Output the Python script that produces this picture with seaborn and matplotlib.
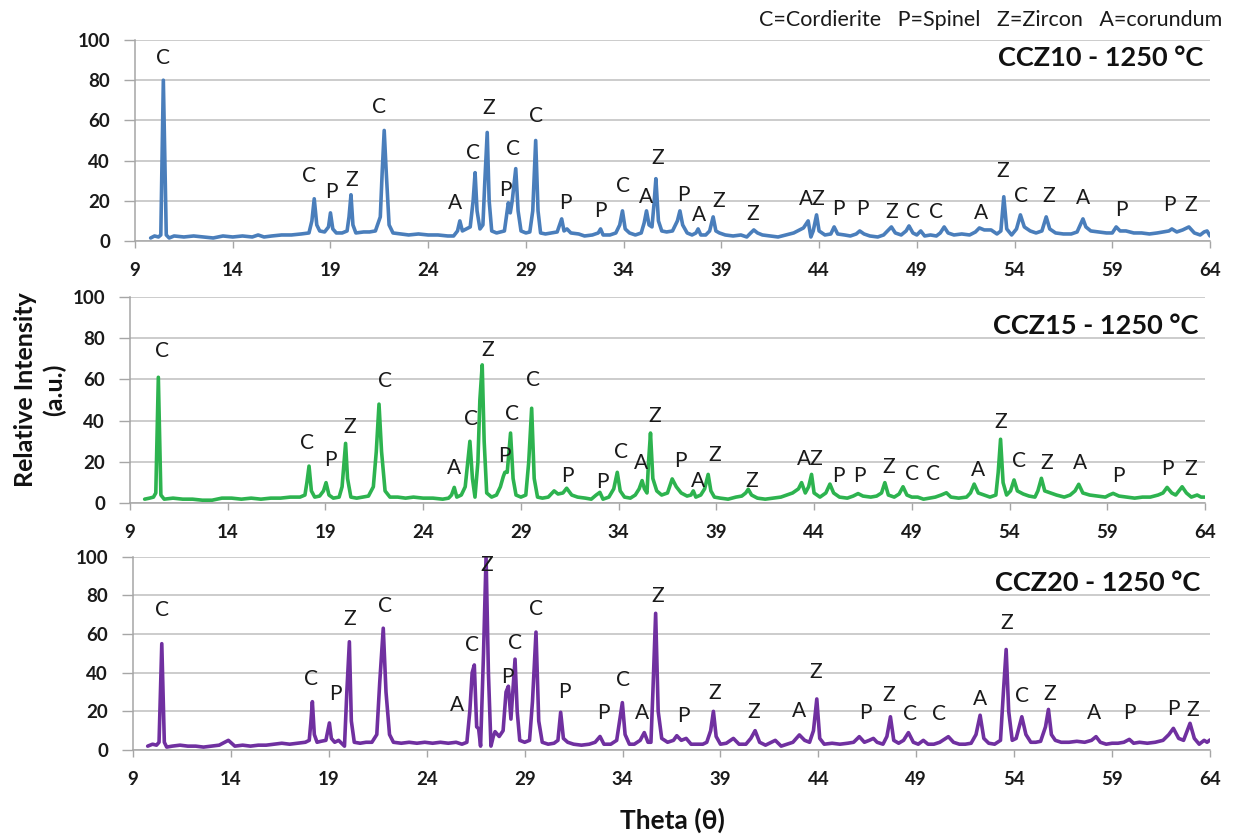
import matplotlib
matplotlib.use("Agg")
import matplotlib.pyplot as plt
import seaborn as sns
import pandas as pd

# ---------------- data ----------------
# CCZ10 - 1250 °C pattern (theta, relative intensity)
theta_10 = [9.8, 10.0, 10.2, 10.32, 10.45, 10.6, 10.75, 11.0, 11.5, 12.0, 12.5, 13.0, 13.5, 14.0, 14.5, 15.0,
            15.3, 15.6, 16.0, 16.5, 17.0, 17.5, 17.9, 18.05, 18.17, 18.3, 18.45, 18.7, 18.9, 19.0, 19.12, 19.3,
            19.6, 19.85, 19.95, 20.05, 20.15, 20.3, 20.7, 21.0, 21.3, 21.55, 21.65, 21.75, 21.85, 22.0, 22.2,
            22.6, 23.0, 23.5, 24.0, 24.5, 25.0, 25.3, 25.5, 25.62, 25.75, 25.95, 26.15, 26.3, 26.4, 26.5, 26.65,
            26.8, 26.9, 27.02, 27.12, 27.25, 27.5, 27.7, 27.9, 28.0, 28.1, 28.2, 28.3, 28.48, 28.6, 28.75, 29.0,
            29.2, 29.35, 29.5, 29.62, 29.75, 30.0, 30.3, 30.6, 30.83, 30.95, 31.1, 31.3, 31.7, 32.0, 32.4, 32.7,
            32.82, 32.95, 33.3, 33.6, 33.8, 33.94, 34.08, 34.3, 34.6, 34.9, 35.05, 35.17, 35.3, 35.45, 35.55,
            35.65, 35.78, 35.95, 36.2, 36.5, 36.75, 36.88, 37.02, 37.25, 37.5, 37.7, 37.81, 37.95, 38.2, 38.4,
            38.58, 38.72, 38.9, 39.2, 39.6, 40.0, 40.3, 40.5, 40.66, 40.85, 41.1, 41.5, 41.9, 42.3, 42.7, 43.0,
            43.2, 43.44, 43.58, 43.7, 43.87, 44.0, 44.3, 44.6, 44.77, 44.95, 45.3, 45.6, 45.9, 46.08, 46.3, 46.6,
            47.0, 47.3, 47.5, 47.7, 47.9, 48.2, 48.45, 48.6, 48.8, 49.0, 49.2, 49.4, 49.7, 50.0, 50.2, 50.4,
            50.6, 50.9, 51.3, 51.7, 52.0, 52.2, 52.45, 52.8, 53.1, 53.3, 53.45, 53.6, 53.85, 54.1, 54.3, 54.5,
            54.8, 55.1, 55.4, 55.62, 55.8, 56.1, 56.5, 56.9, 57.2, 57.5, 57.65, 57.9, 58.3, 58.7, 59.0, 59.2,
            59.4, 59.7, 60.1, 60.5, 60.9, 61.3, 61.6, 61.9, 62.05, 62.3, 62.6, 62.92, 63.2, 63.5, 63.7, 63.85, 64.0]
int_10 = [1.5, 2.5, 2.0, 3, 80, 3, 1.5, 2.5, 2, 2.5, 2, 1.5, 2.5, 2, 2.5, 2,
          3, 2, 2.5, 3, 3, 3.5, 4, 10, 21, 8, 5, 4.5, 7, 14, 6, 4,
          4, 5, 12, 23, 8, 4, 4.5, 4.5, 5, 12, 35, 55, 35, 8, 4,
          3.5, 3, 3.5, 3, 3, 2.5, 2.5, 5, 10, 5, 6, 7, 20, 34, 15, 6,
          8, 30, 54, 20, 5, 4, 4.5, 5, 12, 19, 14, 20, 36, 15, 5, 4,
          4.5, 15, 50, 15, 4, 3.5, 4, 4.5, 11, 5, 6, 4, 3.5, 2.5, 3, 4,
          6, 3, 3, 4, 8, 15, 6, 4, 3, 4, 9, 15, 8, 7, 18,
          31, 10, 5, 4.5, 5, 10, 15, 8, 4, 3, 4, 6, 3, 3, 5,
          12, 5, 4, 3, 2.5, 3, 2, 4, 5.5, 4, 3, 2.5, 2, 3, 4, 5.5,
          6.5, 10, 2, 5, 13, 5, 3, 3.5, 7, 3.5, 3, 2.5, 3.5, 5, 3.5, 2.5,
          2, 3, 5, 7, 4, 3, 5, 7.5, 4, 3, 5, 2.5, 3, 2.5, 4, 7,
          4, 3, 3.5, 3, 4.5, 6.5, 5.5, 5.5, 3.5, 5, 22, 6, 3, 6, 13, 7,
          5, 4, 5, 12, 6, 4, 3.5, 3.5, 4.5, 11, 7, 5, 4.5, 4, 4, 7,
          5, 5, 4, 4, 3.5, 4, 4.5, 5, 6, 4.5, 5.5, 7, 4, 3, 4.5, 5, 2.5]

# CCZ15 - 1250 °C pattern
theta_15 = [9.75, 10.0, 10.2, 10.32, 10.45, 10.58, 10.75, 11.2, 11.7, 12.2, 12.7, 13.2, 13.7, 14.2, 14.7, 15.2,
            15.7, 16.2, 16.7, 17.2, 17.7, 17.95, 18.05, 18.16, 18.28, 18.45, 18.7, 18.9, 19.03, 19.18, 19.4,
            19.7, 19.85, 19.95, 20.03, 20.13, 20.3, 20.6, 20.9, 21.2, 21.45, 21.6, 21.74, 21.87, 22.05, 22.3,
            22.7, 23.1, 23.5, 24.0, 24.5, 25.0, 25.3, 25.45, 25.59, 25.72, 25.95, 26.15, 26.28, 26.39, 26.52,
            26.65, 26.8, 26.9, 27.02, 27.12, 27.25, 27.5, 27.75, 27.95, 28.1, 28.18, 28.3, 28.47, 28.6, 28.75,
            29.0, 29.25, 29.4, 29.55, 29.68, 29.85, 30.1, 30.4, 30.7, 30.9, 31.15, 31.34, 31.6, 31.9, 32.3,
            32.6, 32.85, 33.04, 33.2, 33.5, 33.75, 33.93, 34.08, 34.3, 34.6, 34.85, 35.05, 35.2, 35.32, 35.45,
            35.53, 35.63, 35.75, 35.95, 36.2, 36.5, 36.74, 36.95, 37.2, 37.5, 37.7, 37.82, 37.95, 38.2, 38.4,
            38.58, 38.72, 38.9, 39.2, 39.6, 40.0, 40.3, 40.5, 40.63, 40.8, 41.1, 41.5, 41.9, 42.3, 42.6, 42.9,
            43.2, 43.36, 43.55, 43.72, 43.87, 44.0, 44.3, 44.6, 44.81, 45.0, 45.3, 45.7, 46.0, 46.25, 46.5,
            46.9, 47.2, 47.45, 47.62, 47.8, 48.1, 48.35, 48.55, 48.75, 49.0, 49.3, 49.6, 49.9, 50.2, 50.5,
            50.77, 51.0, 51.4, 51.8, 52.0, 52.19, 52.4, 52.7, 53.0, 53.3, 53.42, 53.54, 53.67, 53.85, 54.05,
            54.23, 54.4, 54.7, 55.0, 55.3, 55.45, 55.63, 55.8, 56.1, 56.4, 56.8, 57.1, 57.35, 57.54, 57.75,
            58.1, 58.5, 58.9, 59.1, 59.3, 59.6, 60.0, 60.4, 60.8, 61.2, 61.6, 61.85, 62.06, 62.3, 62.5, 62.83,
            63.05, 63.3, 63.6, 63.8, 64.0]
int_15 = [2, 2.5, 3, 5, 61, 4, 2, 2.5, 2, 2, 1.5, 1.5, 2.5, 2.5, 2, 2.5,
          2, 2.5, 2.5, 3, 3, 4, 10, 18, 6, 3, 3.5, 6, 10, 4, 2.5,
          3, 8, 20, 29, 12, 3, 2.5, 3, 3.5, 8, 25, 48, 25, 6, 3,
          3, 2.5, 3, 2.5, 2.5, 2, 2.5, 4, 7.7, 3, 4, 8, 20, 30, 12,
          3, 20, 50, 67, 30, 5, 3, 4, 8, 13, 15, 15, 34, 12, 4,
          3, 4, 20, 46, 12, 3, 2.5, 3, 6, 4.5, 5, 7.3, 4, 3, 2.5,
          2, 4, 5.3, 2, 3, 7, 15, 6, 3, 2.5, 4, 7, 11, 7, 5,
          20, 34, 12, 6, 4, 5, 11.8, 8, 5, 3.5, 4, 6, 3, 4, 7,
          14, 6, 3, 2.5, 2, 3, 3.5, 5, 6.8, 4, 2.5, 2, 2.5, 3, 4, 5,
          7, 10, 5, 8, 14, 5, 3, 5, 9.3, 5, 3, 2.5, 3.5, 4.7, 3.5,
          3, 3.5, 5, 10, 4, 3, 4.5, 8, 4, 3, 3, 2, 2.5, 3, 4,
          5.1, 3, 2.5, 3, 5, 9.3, 5, 4, 3, 4, 15, 31, 10, 4, 6,
          11.3, 6, 4.5, 3.5, 3, 6, 12.1, 6, 5, 4, 3, 4, 6, 9.2, 5,
          4, 3.5, 3, 4, 4.8, 3.5, 3, 2.5, 3, 3, 4, 5, 7.7, 5, 4, 8,
          5, 3, 4, 3, 3]

# CCZ20 - 1250 °C pattern
theta_20 = [9.75, 10.0, 10.2, 10.33, 10.47, 10.6, 10.72, 11.0, 11.4, 11.8, 12.2, 12.6, 13.0, 13.4, 13.87, 14.2,
            14.6, 15.0, 15.4, 15.8, 16.2, 16.6, 17.0, 17.4, 17.8, 18.0, 18.08, 18.16, 18.26, 18.4, 18.6, 18.85,
            18.95, 19.03, 19.13, 19.3, 19.5, 19.65, 19.8, 19.92, 20.05, 20.15, 20.3, 20.6, 20.9, 21.2, 21.45,
            21.6, 21.78, 21.92, 22.1, 22.3, 22.7, 23.1, 23.5, 23.9, 24.3, 24.7, 25.1, 25.5, 25.8, 26.05, 26.2,
            26.32, 26.43, 26.55, 26.65, 26.75, 26.9, 27.03, 27.15, 27.28, 27.4, 27.49, 27.7, 27.9, 28.05, 28.17,
            28.3, 28.51, 28.62, 28.75, 29.0, 29.25, 29.4, 29.58, 29.72, 29.9, 30.2, 30.5, 30.7, 30.84, 30.98,
            31.2, 31.5, 31.9, 32.3, 32.6, 32.85, 33.05, 33.4, 33.7, 33.85, 33.99, 34.13, 34.35, 34.6, 34.9,
            35.11, 35.3, 35.45, 35.55, 35.69, 35.82, 36.0, 36.3, 36.6, 36.77, 37.0, 37.25, 37.5, 37.8, 38.1,
            38.3, 38.5, 38.64, 38.78, 39.0, 39.3, 39.66, 39.95, 40.3, 40.55, 40.77, 41.0, 41.3, 41.8, 42.1,
            42.4, 42.7, 43.03, 43.3, 43.55, 43.75, 43.92, 44.07, 44.3, 44.7, 45.1, 45.5, 45.8, 46.09, 46.35,
            46.6, 46.81, 47.0, 47.3, 47.5, 47.68, 47.85, 48.1, 48.35, 48.6, 48.85, 49.1, 49.36, 49.6, 49.9,
            50.2, 50.5, 50.64, 50.9, 51.2, 51.5, 51.8, 52.05, 52.26, 52.45, 52.7, 53.0, 53.3, 53.45, 53.59,
            53.72, 53.9, 54.1, 54.39, 54.6, 54.85, 55.1, 55.35, 55.6, 55.75, 55.9, 56.1, 56.4, 56.8, 57.2,
            57.6, 57.95, 58.18, 58.4, 58.7, 59.0, 59.3, 59.6, 59.88, 60.1, 60.4, 60.8, 61.2, 61.6, 61.9, 62.13,
            62.4, 62.65, 62.98, 63.2, 63.45, 63.7, 63.85, 64.0]
int_20 = [2, 3, 2.5, 4, 55, 4, 1.5, 2, 2.5, 2, 2, 1.5, 2, 2.5, 5, 2,
          2.5, 2, 2.5, 2.5, 3, 3.5, 3, 3.5, 4, 5, 14, 25, 8, 4, 4.5, 5,
          10, 14, 6, 4, 5, 3.5, 2, 30, 56, 15, 4, 3.5, 4, 4, 8,
          35, 63, 30, 8, 4, 3.5, 4, 3.5, 4, 3.5, 4, 3.5, 4, 3, 4, 20,
          40, 44, 12, 11, 2, 50, 100, 40, 2, 7, 9.5, 7, 10, 30, 33,
          16, 47, 20, 5, 4, 5, 25, 61, 15, 4, 3, 3.5, 5, 19.5, 6,
          4, 3, 2.5, 3, 4, 7, 3, 3, 5, 15, 24.5, 8, 3, 3, 5,
          9, 4, 4, 30, 70.7, 20, 6, 4, 5, 7.4, 5, 6, 3, 3, 3,
          4, 10, 20, 7, 3, 3.5, 6, 3, 3, 6, 10, 4, 2.5, 5, 2,
          3, 4, 7.8, 5, 4, 10, 26.4, 6, 3, 3.5, 3, 3.5, 4, 6.9, 4,
          5, 6, 4, 3, 7, 17.2, 5, 3.5, 5, 9, 4, 3, 5, 3, 3,
          4, 6, 6.9, 4, 3, 3, 3.5, 8, 18, 6, 3.5, 3, 5, 30, 52,
          20, 5, 6, 17.2, 8, 4, 4, 4.5, 12, 21, 8, 5, 4, 4, 4.5,
          4, 5, 6.9, 4, 3, 3.5, 3.5, 4, 5.5, 3.5, 4, 3.5, 4, 5, 8, 11.2,
          6, 5, 13.8, 6, 3, 5, 4, 5.2]

# phase labels (text, theta, height of label)
lab_10_text = ["C", "C", "P", "Z", "C", "A", "C", "Z", "P", "C", "C", "P", "P", "C", "A", "Z", "P", "A", "Z",
               "Z", "AZ", "P", "P", "Z", "C", "C", "A", "Z", "C", "Z", "A", "P", "P", "Z"]
lab_10_theta = [10.43, 17.9, 19.03, 20.1, 21.48, 25.37, 26.29, 27.11, 27.93, 28.34, 29.51, 31.0, 32.79, 33.96,
                35.14, 35.75, 37.08, 37.85, 38.87, 40.61, 43.63, 45.01, 46.24, 47.72, 48.8, 49.97, 52.27, 53.4,
                54.32, 55.75, 57.49, 59.49, 61.94, 63.01]
lab_10_h = [91.0, 32.3, 24.4, 30.3, 66.7, 18.9, 43.8, 66.2, 25.4, 45.8, 62.2, 18.9, 14.9, 27.4, 21.9, 41.3,
            22.9, 12.9, 19.9, 13.4, 20.9, 15.9, 15.9, 14.4, 14.4, 14.4, 13.9, 34.8, 22.4, 22.4, 21.4, 15.4,
            17.9, 17.9]

lab_15_text = ["C", "C", "P", "Z", "C", "A", "C", "Z", "P", "C", "C", "P", "P", "C", "A", "Z", "P", "A", "Z",
               "Z", "AZ", "P", "P", "Z", "C", "C", "A", "Z", "C", "Z", "A", "P", "P", "Z"]
lab_15_theta = [10.64, 18.05, 19.23, 20.25, 22.04, 25.57, 26.44, 27.31, 28.13, 28.54, 29.61, 31.4, 33.19, 34.12,
                35.14, 35.85, 37.18, 38.05, 38.92, 40.82, 43.79, 45.22, 46.34, 47.82, 49.0, 50.07, 52.38, 53.55,
                54.47, 55.91, 57.59, 59.59, 62.1, 63.27]
lab_15_h = [73.7, 29.2, 21.0, 37.0, 59.2, 17.1, 40.8, 74.2, 22.9, 43.3, 59.7, 13.2, 10.3, 24.8, 19.5, 42.3,
            20.5, 10.8, 23.4, 10.8, 21.4, 13.2, 13.2, 17.6, 14.2, 14.2, 16.1, 39.4, 20.5, 19.5, 19.5, 13.2,
            16.6, 16.6]

lab_20_text = ["C", "C", "P", "Z", "C", "A", "C", "Z", "P", "C", "C", "P", "P", "C", "A", "Z", "P", "Z", "Z",
               "A", "Z", "P", "Z", "C", "C", "A", "Z", "C", "Z", "A", "P", "P", "Z"]
lab_20_theta = [10.48, 18.09, 19.32, 20.08, 21.87, 25.55, 26.31, 27.08, 28.1, 28.51, 29.58, 31.01, 33.0, 34.03,
                35.0, 35.81, 37.09, 38.72, 40.72, 43.01, 43.88, 46.38, 47.61, 48.68, 50.16, 52.26, 53.64, 54.4,
                55.83, 58.08, 59.87, 62.11, 63.14]
lab_20_h = [72.4, 36.7, 29.0, 67.8, 74.5, 23.3, 54.3, 95.7, 37.8, 55.4, 72.9, 30.0, 19.1, 36.2, 19.1, 79.7,
            17.6, 29.5, 19.7, 20.2, 40.4, 19.1, 28.5, 18.6, 18.6, 26.4, 65.7, 27.9, 29.0, 19.1, 19.1, 21.2,
            20.7]

titles = ["CCZ10 - 1250 °C", "CCZ15 - 1250 °C", "CCZ20 - 1250 °C"]
x_ticks = [9, 14, 19, 24, 29, 34, 39, 44, 49, 54, 59, 64]
y_ticks = [0, 20, 40, 60, 80, 100]
legend_text = "C=Cordierite   P=Spinel   Z=Zircon   A=corundum"

# ---------------- figure ----------------
sns.set_theme(style="white")
FONT = ["Lato", "DejaVu Sans"]
plt.rcParams["font.family"] = FONT

W, H = 1237, 835
fig = plt.figure(figsize=(W / 100, H / 100), dpi=100)

# axes rectangles in pixels: left, right, top(100), bottom(0)
rects = [(135, 1210, 40, 241), (130, 1205, 296.7, 503.3), (133, 1210, 556.7, 750)]
colors = ["#4A7EBB", "#2DB34F", "#7030A0"]
series = [(theta_10, int_10), (theta_15, int_15), (theta_20, int_20)]
labels = [(lab_10_text, lab_10_theta, lab_10_h), (lab_15_text, lab_15_theta, lab_15_h),
          (lab_20_text, lab_20_theta, lab_20_h)]
title_pos = [(1203, 58), (1198, 326), (1200, 583)]

for i in range(3):
    l, r, t, b = rects[i]
    ax = fig.add_axes([l / W, 1 - b / H, (r - l) / W, (b - t) / H])
    df = pd.DataFrame({"theta": series[i][0], "I": series[i][1]})
    sns.lineplot(data=df, x="theta", y="I", ax=ax, color=colors[i], linewidth=2.6,
                 estimator=None, sort=False)
    for ln in ax.lines:
        ln.set_solid_joinstyle("round")
        ln.set_solid_capstyle("round")
    ax.set_xlim(9, 64)
    ax.set_ylim(0, 100)
    ax.set_xticks(x_ticks)
    ax.set_yticks(y_ticks)
    ax.set_xlabel("")
    ax.set_ylabel("")
    ax.grid(axis="y", color="#BFBFBF", linewidth=1.1)
    ax.grid(axis="x", visible=False)
    ax.set_axisbelow(True)
    for s in ["top", "right"]:
        ax.spines[s].set_visible(False)
    for s in ["left", "bottom"]:
        ax.spines[s].set_color("#A6A6A6")
        ax.spines[s].set_linewidth(1.1)
    ax.tick_params(axis="x", direction="out", length=5, width=1, color="#A6A6A6", pad=10,
                   labelsize=13.5, bottom=True)
    ax.tick_params(axis="y", direction="out", length=8, width=1, color="#A6A6A6", pad=10,
                   labelsize=13.5, left=True)
    for lab in ax.get_xticklabels() + ax.get_yticklabels():
        lab.set_fontweight("bold")
        lab.set_color("#1a1a1a")
    tx, th, hh = labels[i]
    for s, x, y in zip(tx, th, hh):
        ax.text(x, y, s, ha="center", va="center", fontsize=15, color="#1a1a1a",
                family=FONT, clip_on=False)
    px, py = title_pos[i]
    fig.text(px / W, 1 - py / H, titles[i], ha="right", va="center", fontsize=19.5,
             fontweight="bold", color="#111111", family=FONT)

fig.text(1222 / W, 1 - 20 / H, legend_text, ha="right", va="center", fontsize=15.5,
         color="#1a1a1a", family=FONT)
fig.text(40 / W, 1 - 390 / H, "Relative Intensity\n(a.u.)", ha="center", va="center",
         rotation=90, fontsize=18, fontweight="bold", color="#111111", family=FONT,
         multialignment="center", linespacing=1.3)
fig.text(672 / W, 1 - 820 / H, "Theta (θ)", ha="center", va="center", fontsize=19,
         fontweight="bold", color="#111111", family=FONT)

fig.savefig("out.png", dpi=100)
